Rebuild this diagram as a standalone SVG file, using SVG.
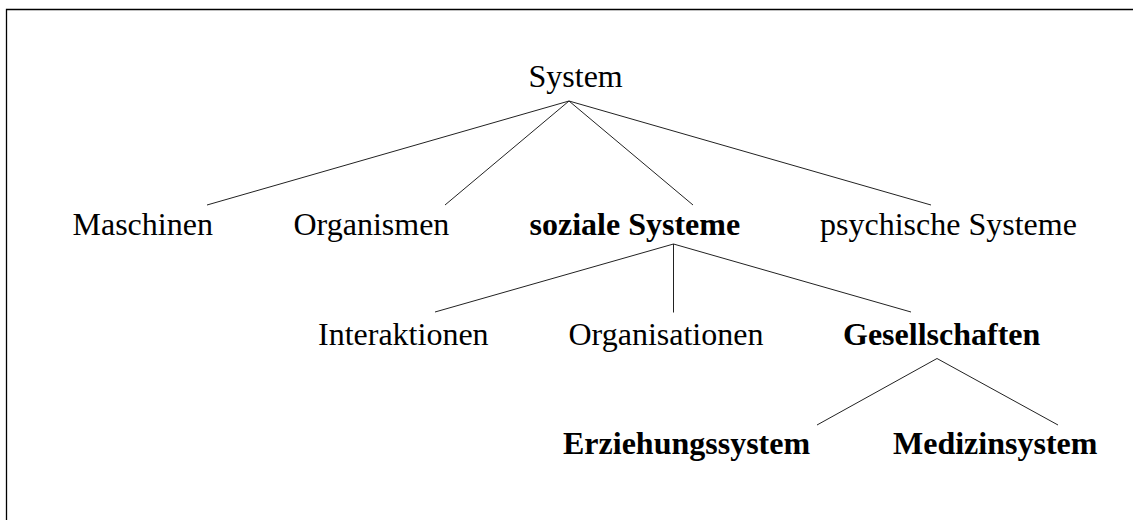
<svg xmlns="http://www.w3.org/2000/svg" width="1133" height="520" viewBox="0 0 1133 520">
<style>
.t{font-family:"Liberation Serif","Times New Roman",serif;font-size:32px;fill:#000}
.b{font-weight:bold}
.c line{stroke:#222;stroke-width:1}
</style>
<rect width="1133" height="520" fill="#fff"/>
<path d="M6.5,520 V9.5 H1133" fill="none" stroke="#000" stroke-width="1.3"/>
<g class="c" id="connectors">
<line x1="569" y1="101" x2="207" y2="205"/>
<line x1="569" y1="101" x2="445" y2="205"/>
<line x1="569" y1="101" x2="693" y2="205"/>
<line x1="569" y1="101" x2="931" y2="205"/>
<line x1="673.5" y1="244" x2="435" y2="312"/>
<line x1="673.5" y1="244" x2="673.5" y2="312.5"/>
<line x1="673.5" y1="244" x2="911" y2="312"/>
<line x1="937" y1="358.5" x2="817" y2="425"/>
<line x1="937" y1="358.5" x2="1058" y2="425"/>
</g>
<g id="system"><text class="t" x="528.5" y="87">System</text></g>
<g id="maschinen"><text class="t" x="72.5" y="235">Maschinen</text></g>
<g id="organismen"><text class="t" x="293.5" y="235">Organismen</text></g>
<g id="soziale"><text class="t b" x="529.5" y="235">soziale Systeme</text></g>
<g id="psychische"><text class="t" x="820" y="235">psychische Systeme</text></g>
<g id="interaktionen"><text class="t" x="318" y="345">Interaktionen</text></g>
<g id="organisationen"><text class="t" x="568.5" y="345">Organisationen</text></g>
<g id="gesellschaften"><text class="t b" x="843" y="345">Gesellschaften</text></g>
<g id="erziehung"><text class="t b" x="563" y="454">Erziehungssystem</text></g>
<g id="medizin"><text class="t b" x="893" y="454">Medizinsystem</text></g>
</svg>
